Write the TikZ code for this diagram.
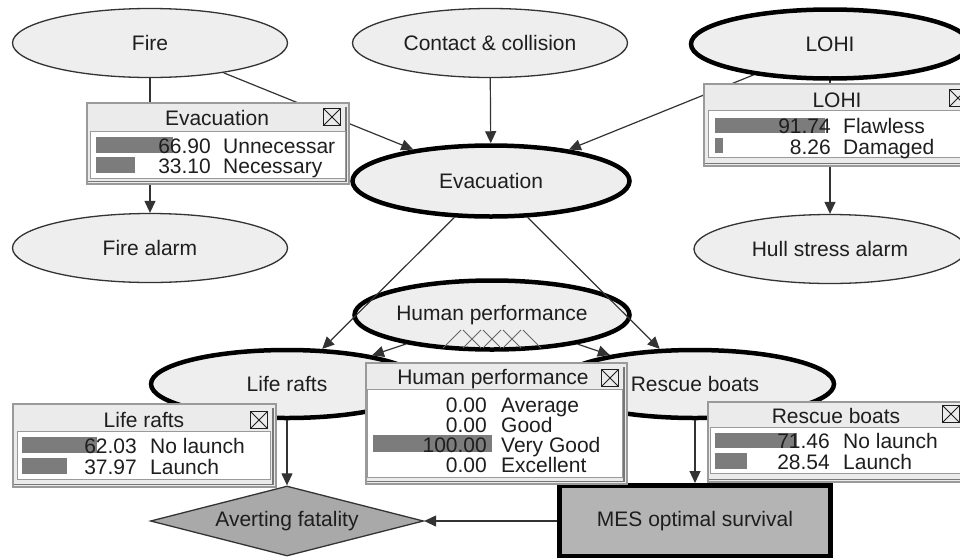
\documentclass[tikz,border=0pt]{standalone}
\usepackage{fontspec}
\setmainfont{Liberation Sans}
\usetikzlibrary{shapes.geometric,arrows.meta}
\definecolor{ink}{HTML}{1E1E1E}
\definecolor{edge}{HTML}{333333}
\definecolor{nodefill}{HTML}{EEEEEE}
\definecolor{barfill}{HTML}{7C7C7C}
\definecolor{panel}{HTML}{EBEBEB}
\definecolor{panelline}{HTML}{9A9A9A}
\definecolor{panelshade}{HTML}{777777}
\definecolor{decfill}{HTML}{A9A9A9}
\definecolor{utilfill}{HTML}{B4B4B4}
\definecolor{hatch}{HTML}{666666}

\begin{document}
\begin{tikzpicture}[x=1pt,y=-1pt,
  every node/.style={font=\fontsize{21}{24}\selectfont, text=ink},
  chance/.style={ellipse, draw=edge, line width=1.3pt, fill=nodefill,
    minimum width=275pt, minimum height=69pt, inner sep=0pt},
  keynode/.style={chance, draw=black, line width=4.5pt},
  decision/.style={diamond, draw=edge, line width=1.3pt, fill=decfill, aspect=3.9,
    minimum width=273pt, minimum height=70pt, inner sep=0pt},
  utility/.style={rectangle, draw=black, line width=5pt, fill=utilfill,
    minimum width=271pt, minimum height=71pt},
  link/.style={draw=edge, line width=1.2pt, -{Triangle[length=12pt,width=11pt]}},
  panelbox/.style={rectangle, anchor=north west, fill=panel, draw=panelline,
    line width=1.5pt, inner sep=0pt},
  panelin/.style={rectangle, anchor=north west, fill=white, draw=panelline,
    line width=1.2pt, inner sep=0pt},
  shade/.style={draw=panelshade, line width=1.2pt},
  ptitle/.style={inner sep=0pt, anchor=base},
  pnum/.style={inner sep=0pt, anchor=base east},
  plab/.style={inner sep=0pt, anchor=base west},
  closebox/.style={rectangle, draw=ink, line width=1.1pt, minimum size=17pt, inner sep=0pt,
    path picture={\draw[ink, line width=1pt]
      (path picture bounding box.north west) -- (path picture bounding box.south east)
      (path picture bounding box.north east) -- (path picture bounding box.south west);}},
  bar/.style={fill=barfill}
]
\fill[white] (0,0) rectangle (960,557);
\useasboundingbox (0,0) rectangle (960,557);

% ---- network nodes ----
\node[chance] (fire) at (150,43) {Fire};
\node[chance] (contact) at (490,43) {Contact \& collision};
\node[keynode, minimum width=278pt] (lohi) at (830,44) {LOHI};
\node[keynode, minimum width=277pt, minimum height=71pt] (evac) at (491,181) {Evacuation};
\node[chance] (firealarm) at (150,248) {Fire alarm};
\node[chance, minimum width=272pt] (hull) at (830,249) {Hull stress alarm};
\node[keynode] (human) at (492,315) {Human performance};
\node[keynode, minimum width=272pt, minimum height=68pt] (liferafts) at (287,384) {Life rafts};
\node[keynode, minimum width=278pt, minimum height=68pt] (rescue) at (695,384) {Rescue boats};
\node[decision] (avert) at (287,521) {Averting fatality};
\node[utility] (mes) at (695,521) {MES optimal survival};

% hatch marks under the Human performance label
\begin{scope}[draw=hatch, line width=0.9pt]
  \foreach \i in {0,1,2,3} {
    \draw (443+20*\i,348) -- ++(18,-18);
    \draw (463+20*\i,330) -- ++(18,18);
  }
\end{scope}

% ---- links ----
\draw[link] (fire) -- (evac);
\draw[link] (fire) -- (firealarm);
\draw[link] (contact) -- (evac);
\draw[link] (lohi) -- (evac);
\draw[link] (lohi) -- (hull);
\draw[link] (evac) -- (liferafts);
\draw[link] (evac) -- (rescue);
\draw[link] (human) -- (liferafts);
\draw[link] (human) -- (rescue);
\draw[link] (liferafts) -- (avert);
\draw[link] (rescue) -- (mes);
\draw[link] (mes) -- (avert);

% ---- monitor: Evacuation ----
\node[panelbox, minimum width=262pt, minimum height=81pt] (evmon) at (86,102) {};
\draw[shade] (evmon.south west) ++(2,-3) -- ++(258,0) -- ++(0,-75);
\node[panelin, minimum width=255pt, minimum height=47pt] (evmonin) at (90,131) {};
\node[ptitle] (evmont) at (217,125) {Evacuation};
\node[closebox] (evmonx) at (332,117) {};
\fill[bar] (96,137) rectangle (173,153);
\fill[bar] (96,157) rectangle (135,173);
\node[pnum] (evn1) at (211,153) {66.90};
\node[plab] (evl1) at (223,153) {Unnecessar};
\node[pnum] (evn2) at (211,173) {33.10};
\node[plab] (evl2) at (223,173) {Necessary};

% ---- monitor: LOHI ----
\node[panelbox, minimum width=270pt, minimum height=82pt] (lomon) at (703,83) {};
\draw[shade] (lomon.south west) ++(2,-3) -- ++(266,0);
\node[panelin, minimum width=265pt, minimum height=47pt] (lomonin) at (708,110) {};
\node[ptitle] (lomont) at (837,107) {LOHI};
\node[closebox] (lomonx) at (958,98) {};
\fill[bar] (715,118) rectangle (825,133);
\fill[bar] (715,138) rectangle (723,153);
\node[pnum] (lon1) at (831,133) {91.74};
\node[plab] (lol1) at (843,133) {Flawless};
\node[pnum] (lon2) at (831,154) {8.26};
\node[plab] (lol2) at (843,154) {Damaged};

% ---- monitor: Life rafts ----
\node[panelbox, minimum width=263pt, minimum height=83pt] (lrmon) at (12,403) {};
\draw[shade] (lrmon.south west) ++(2,-3) -- ++(259,0) -- ++(0,-77);
\node[panelin, minimum width=253pt, minimum height=48pt] (lrmonin) at (17,431) {};
\node[ptitle] (lrmont) at (144,427) {Life rafts};
\node[closebox] (lrmonx) at (259,420) {};
\fill[bar] (22,437) rectangle (97,453);
\fill[bar] (22,458) rectangle (67,474);
\node[pnum] (lrn1) at (137,453) {62.03};
\node[plab] (lrl1) at (150,453) {No launch};
\node[pnum] (lrn2) at (137,474) {37.97};
\node[plab] (lrl2) at (150,474) {Launch};

% ---- monitor: Human performance ----
\node[panelbox, minimum width=261pt, minimum height=121pt] (hpmon) at (365,362) {};
\draw[shade] (hpmon.south west) ++(2,-3) -- ++(257,0) -- ++(0,-115);
\node[panelin, minimum width=255pt, minimum height=88pt] (hpmonin) at (367,389) {};
\node[ptitle] (hpmont) at (493,384) {Human performance};
\node[closebox] (hpmonx) at (610,378) {};
\fill[bar] (373,435) rectangle (492,452);
\node[pnum] (hpn1) at (487,412) {0.00};
\node[plab] (hpl1) at (501,412) {Average};
\node[pnum] (hpn2) at (487,432) {0.00};
\node[plab] (hpl2) at (501,432) {Good};
\node[pnum] (hpn3) at (487,452) {100.00};
\node[plab] (hpl3) at (501,452) {Very Good};
\node[pnum] (hpn4) at (487,472) {0.00};
\node[plab] (hpl4) at (501,472) {Excellent};

% ---- monitor: Rescue boats ----
\node[panelbox, minimum width=266pt, minimum height=80pt] (rbmon) at (707,401) {};
\draw[shade] (rbmon.south west) ++(2,-3) -- ++(262,0);
\node[panelin, minimum width=262pt, minimum height=46pt] (rbmonin) at (710,427) {};
\node[ptitle] (rbmont) at (836,423) {Rescue boats};
\node[closebox] (rbmonx) at (951,414) {};
\fill[bar] (715,433) rectangle (797,448);
\fill[bar] (715,453) rectangle (747,469);
\node[pnum] (rbn1) at (830,448) {71.46};
\node[plab] (rbl1) at (843,448) {No launch};
\node[pnum] (rbn2) at (830,469) {28.54};
\node[plab] (rbl2) at (843,469) {Launch};
\end{tikzpicture}
\end{document}
